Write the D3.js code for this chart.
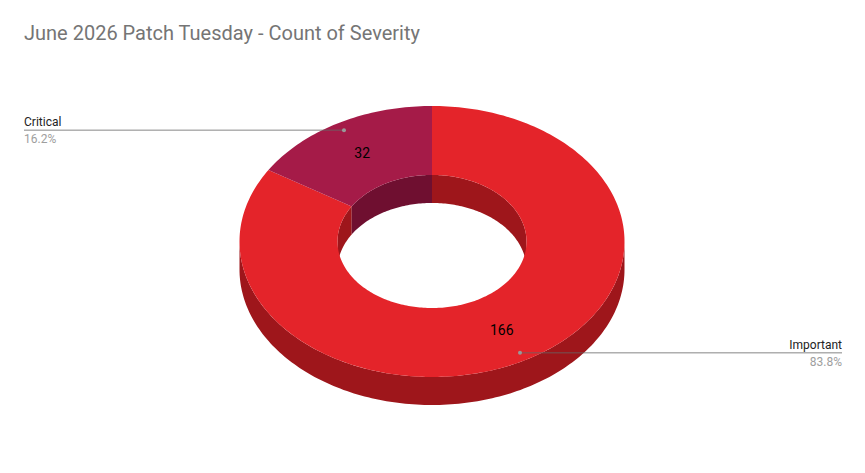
<!DOCTYPE html>
<html><head><meta charset="utf-8">
<script src="https://cdn.jsdelivr.net/npm/d3@7/dist/d3.min.js"></script>
<style>body{margin:0;background:#fff}svg{font-family:Roboto,Arial,sans-serif}</style>
</head><body><svg id="c" width="865" height="473"></svg>
<script>
const categories = ["Important", "Critical"];
const values = [166, 32];
const percents = ["83.8%", "16.2%"];
const topColors = ["#e4242a", "#a51b48"];
const sideColors = ["#9e161b", "#6f0f30"];

const svg = d3.select("#c");
const cx = 432, cy = 241.5, rx = 192.5, irx = 94.5, k = 0.704, depth = 28;
const TAU = Math.PI * 2;
const pie = d3.pie().sort(null).value(d => d)(values);
const pt = (a, r, dy = 0) => [cx + r * Math.sin(a), cy - r * k * Math.cos(a) + dy];
function arcPts(a0, a1, r, dy) {
  const n = Math.max(2, Math.ceil(Math.abs(a1 - a0) / 0.02));
  return d3.range(n + 1).map(i => pt(a0 + (a1 - a0) * i / n, r, dy));
}
const line = d3.line();
function band(a0, a1, r) {
  return line([...arcPts(a0, a1, r, 0), ...arcPts(a1, a0, r, depth)]) + "Z";
}
function ring(a0, a1) {
  return line([...arcPts(a0, a1, rx, 0), ...arcPts(a1, a0, irx, 0)]) + "Z";
}
function clipRange(a0, a1, b0, b1) {
  const s = Math.max(a0, b0), e = Math.min(a1, b1);
  return s < e ? [s, e] : null;
}
// outer front walls
pie.forEach((p, i) => {
  const r = clipRange(p.startAngle, p.endAngle, Math.PI / 2, 3 * Math.PI / 2);
  if (r) svg.append("path").attr("d", band(r[0], r[1], rx)).attr("fill", sideColors[i]);
});
// inner back walls
pie.forEach((p, i) => {
  [[0, Math.PI / 2], [3 * Math.PI / 2, TAU]].forEach(w => {
    const r = clipRange(p.startAngle, p.endAngle, w[0], w[1]);
    if (r) svg.append("path").attr("d", band(r[0], r[1], irx)).attr("fill", sideColors[i]);
  });
});
// top faces
pie.forEach((p, i) => {
  svg.append("path").attr("d", ring(p.startAngle, p.endAngle)).attr("fill", topColors[i]);
});
// value labels
pie.forEach((p, i) => {
  const m = (p.startAngle + p.endAngle) / 2;
  const [x, y] = pt(m, (rx + irx) / 2);
  svg.append("text").attr("x", x).attr("y", y + 5).attr("text-anchor", "middle")
    .attr("font-size", 14).attr("fill", "#000").text(values[i]);
});
// leader lines + legend labels
pie.forEach((p, i) => {
  const m = (p.startAngle + p.endAngle) / 2;
  const [x, y] = pt(m, 181);
  const left = Math.sin(m) < 0;
  const ex = left ? 24 : 842;
  svg.append("line").attr("x1", x).attr("y1", y).attr("x2", ex).attr("y2", y)
    .attr("stroke", "#666").attr("stroke-width", 0.8);
  svg.append("circle").attr("cx", x).attr("cy", y).attr("r", 2).attr("fill", "#999");
  const anchor = left ? "start" : "end";
  svg.append("text").attr("x", ex).attr("y", y - 4).attr("text-anchor", anchor)
    .attr("font-size", 12).attr("fill", "#222").text(categories[i]);
  svg.append("text").attr("x", ex).attr("y", y + 13).attr("text-anchor", anchor)
    .attr("font-size", 12).attr("fill", "#9e9e9e").text(percents[i]);
});
svg.append("text").attr("x", 24).attr("y", 40).attr("font-size", 20).attr("fill", "#757575")
  .text("June 2026 Patch Tuesday - Count of Severity");
</script></body></html>
